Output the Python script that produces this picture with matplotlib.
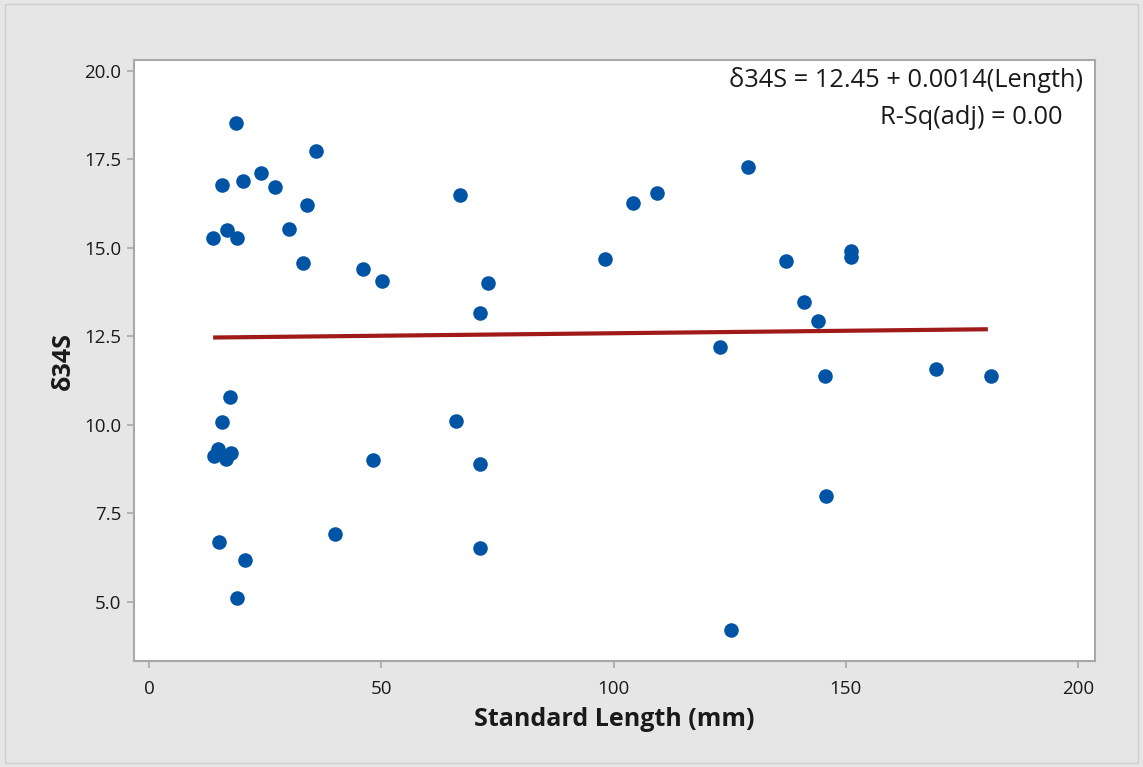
import matplotlib
matplotlib.use("Agg")
import matplotlib.pyplot as plt
import numpy as np
from matplotlib.patches import Rectangle

plt.rcParams['font.family'] = ['Open Sans', 'DejaVu Sans']

length = [18.7, 15.7, 20.2, 24.1, 27.1, 36.0, 34.0, 30.1, 13.8, 16.8, 18.9,
          33.2, 46.1, 50.2, 17.4, 15.7, 14.0, 14.8, 16.5, 17.6, 48.2, 40.0,
          15.1, 20.7, 18.9, 67.0, 104.2, 98.2, 73.0, 71.3, 66.1, 71.3, 71.3,
          109.4, 129.0, 137.1, 141.0, 144.0, 151.1, 151.1, 122.9, 145.5,
          169.4, 181.3, 145.7, 125.3]
d34s = [18.53, 16.78, 16.89, 17.12, 16.72, 17.74, 16.21, 15.54, 15.28, 15.51, 15.28,
        14.58, 14.41, 14.07, 10.79, 10.08, 9.12, 9.33, 9.04, 9.22, 9.01, 6.92,
        6.69, 6.19, 5.11, 16.50, 16.27, 14.69, 14.01, 13.16, 10.11, 8.90, 6.53,
        16.55, 17.29, 14.63, 13.47, 12.94, 14.92, 14.75, 12.20, 11.38,
        11.58, 11.38, 7.99, 4.21]
intercept = 12.45
slope = 0.0014
x_ticks = [0, 50, 100, 150, 200]
y_ticks = [5.0, 7.5, 10.0, 12.5, 15.0, 17.5, 20.0]

bg = '#e6e6e6'
fig = plt.figure(figsize=(11.43, 7.67), dpi=100, facecolor=bg)
fig.patches.append(Rectangle((0.004, 0.005), 0.992, 0.99, transform=fig.transFigure,
                             fill=False, edgecolor='#cfcfcf', linewidth=1.0))
ax = fig.add_axes([134/1143, 1-661/767, (1095-134)/1143, (661-60)/767])
ax.set_facecolor('white')

ax.scatter(length, d34s, s=110, color='#0054a6', zorder=3, linewidths=0)
xl = np.array([min(length), max(length) - 0.7])
ax.plot(xl, intercept + slope * xl, color='#a01a1a', linewidth=3, zorder=2,
        solid_capstyle='butt')

ax.set_xlim(-3.23, 203.66)
ax.set_ylim(3.33, 20.31)
ax.set_xticks(x_ticks)
ax.set_xticklabels([str(t) for t in x_ticks])
ax.set_yticks(y_ticks)
ax.set_yticklabels([f'{t:.1f}' for t in y_ticks])
for s in ax.spines.values():
    s.set_color('#a8a8a8')
    s.set_linewidth(1.5)
ax.tick_params(axis='both', colors='#a8a8a8', labelcolor='#1a1a1a', labelsize=13.5,
               length=5, width=1.2, direction='out')
ax.tick_params(axis='x', pad=9)
ax.tick_params(axis='y', pad=4)

ax.set_xlabel('Standard Length (mm)', fontsize=18, fontweight='bold', color='#1a1a1a',
              labelpad=6)
ax.set_ylabel('δ34S', fontsize=18, fontweight='bold', color='#1a1a1a', labelpad=6)

ax.text(1083/1143, 1-80/767, 'δ34S = 12.45 + 0.0014(Length)', transform=fig.transFigure,
        ha='right', va='center', fontsize=18.3, color='#1a1a1a')
ax.text(1062/1143, 1-117/767, 'R-Sq(adj) = 0.00', transform=fig.transFigure,
        ha='right', va='center', fontsize=18.3, color='#1a1a1a')

fig.savefig('out.png', dpi=100, facecolor=bg)
